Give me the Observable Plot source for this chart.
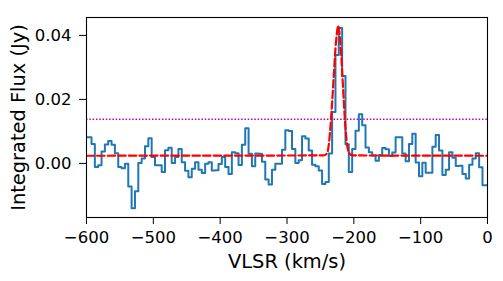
<!DOCTYPE html>
<html>
<head>
<meta charset="utf-8">
<script src="https://cdn.jsdelivr.net/npm/d3@7"></script>
<script src="https://cdn.jsdelivr.net/npm/@observablehq/plot@0.6"></script>
<style>
  html, body { margin: 0; padding: 0; background: #fff; overflow: hidden; }
</style>
</head>
<body>
<div id="chart"></div>
<script>
// Spectral channels (km/s)
const velocity = [
  -600,-595,-590,-585,-580,-575,-570,-565,-560,-555,
  -550,-545,-540,-535,-530,-525,-520,-515,-510,-505,
  -500,-495,-490,-485,-480,-475,-470,-465,-460,-455,
  -450,-445,-440,-435,-430,-425,-420,-415,-410,-405,
  -400,-395,-390,-385,-380,-375,-370,-365,-360,-355,
  -350,-345,-340,-335,-330,-325,-320,-315,-310,-305,
  -300,-295,-290,-285,-280,-275,-270,-265,-260,-255,
  -250,-245,-240,-235,-230,-225,-220,-215,-210,-205,
  -200,-195,-190,-185,-180,-175,-170,-165,-160,-155,
  -150,-145,-140,-135,-130,-125,-120,-115,-110,-105,
  -100,-95,-90,-85,-80,-75,-70,-65,-60,-55,
  -50,-45,-40,-35,-30,-25,-20,-15,-10,-5,
  0
];
// Integrated flux per channel (Jy)
const flux = [
  0.0082,0.0082,0.0061,-0.0011,-0.0006,0.0037,0.0059,0.0070,0.0058,0.0032,
  -0.0011,-0.0015,-0.0001,-0.0072,-0.0140,-0.0087,0.0001,0.0015,0.0054,0.0079,
  0.0020,-0.0006,-0.0006,-0.0027,0.0041,0.0049,0.0001,0.0020,0.0045,0.0004,
  -0.0023,-0.0043,-0.0017,0.0004,-0.0020,-0.0030,-0.0001,0.0004,-0.0022,-0.0021,
  -0.0002,0.0020,-0.0011,-0.0033,0.0035,0.0032,-0.0005,0.0058,0.0110,0.0030,
  -0.0009,0.0031,0.0030,0.0005,-0.0050,-0.0066,-0.0020,-0.0001,-0.0001,0.0043,
  0.0104,0.0101,0.0045,0.0001,0.0010,0.0085,0.0078,0.0040,-0.0004,-0.0009,
  -0.0022,-0.0064,-0.0058,0.0031,0.0161,0.0339,0.0423,0.0273,0.0060,-0.0027,
  0.0045,0.0102,0.0154,0.0119,0.0050,0.0035,0.0025,0.0008,0.0026,0.0048,
  0.0044,0.0023,0.0034,0.0082,0.0082,0.0031,0.0007,0.0061,0.0093,0.0003,
  -0.0040,0.0002,-0.0029,-0.0029,0.0052,0.0089,0.0040,-0.0036,-0.0020,0.0035,
  0.0018,-0.0008,-0.0007,-0.0033,-0.0047,-0.0004,0.0015,0.0032,-0.0012,-0.0068,
  -0.0068
];
// Fitted model (red dashed)
const fitVelocity = [-600,-245,-240,-237.5,-235,-232.5,-230,-227.5,-225,-223.5,-222,-219.5,-217,-214.5,-212,-209.5,-207,-202,0];
const fitFlux     = [0.0024,0.0025,0.0032,0.0058,0.0115,0.0190,0.0275,0.0358,0.0413,0.0431,0.0417,0.0358,0.0270,0.0175,0.0097,0.0050,0.0032,0.0025,0.0024];
// Detection threshold (purple dotted)
const threshold = [0.0138];

const xTicks = [-600,-500,-400,-300,-200,-100,0];
const yTicks = [0, 0.02, 0.04];
const xLabel = "VLSR (km/s)";
const yLabel = "Integrated Flux (Jy)";

const data = velocity.map((v, i) => ({v, f: flux[i]}));
const fit = fitVelocity.map((v, i) => ({v, f: fitFlux[i]}));

const chart = Plot.plot({
  width: 503,
  height: 281,
  marginLeft: 86,
  marginRight: 16,
  marginTop: 17,
  marginBottom: 64,
  style: {fontFamily: "DejaVu Sans", fontSize: "16.5px", background: "white", color: "black"},
  x: {domain: [-600, 0]},
  y: {domain: [-0.0169, 0.0456]},
  marks: [
    Plot.ruleY(threshold, {stroke: "#bf00bf", strokeWidth: 1.4, strokeDasharray: "1.5,1.8"}),
    Plot.line(data, {x: "v", y: "f", curve: "step", stroke: "#1f77b4", strokeWidth: 2, clip: true}),
    Plot.line(fit, {x: "v", y: "f", curve: "monotone-x", stroke: "red", strokeWidth: 2.2, strokeDasharray: "7.4,3.2", clip: true}),
    Plot.frame({stroke: "black", strokeWidth: 1.1}),
    Plot.axisX(xTicks, {tickSize: 7, tickPadding: 7, tickFormat: d3.format("d"), label: null, fontSize: 16.5}),
    Plot.axisY(yTicks, {tickSize: 7, tickPadding: 8, tickFormat: d3.format(".2f"), label: null, fontSize: 16.5}),
    Plot.text([xLabel], {text: d => d, frameAnchor: "bottom", dy: 44, fontSize: 19.4, textAnchor: "middle", lineAnchor: "middle"}),
    Plot.text([yLabel], {text: d => d, frameAnchor: "left", dx: -68, rotate: -90, fontSize: 19.4, textAnchor: "middle", lineAnchor: "middle"})
  ]
});
document.getElementById("chart").append(chart);
</script>
</body>
</html>
